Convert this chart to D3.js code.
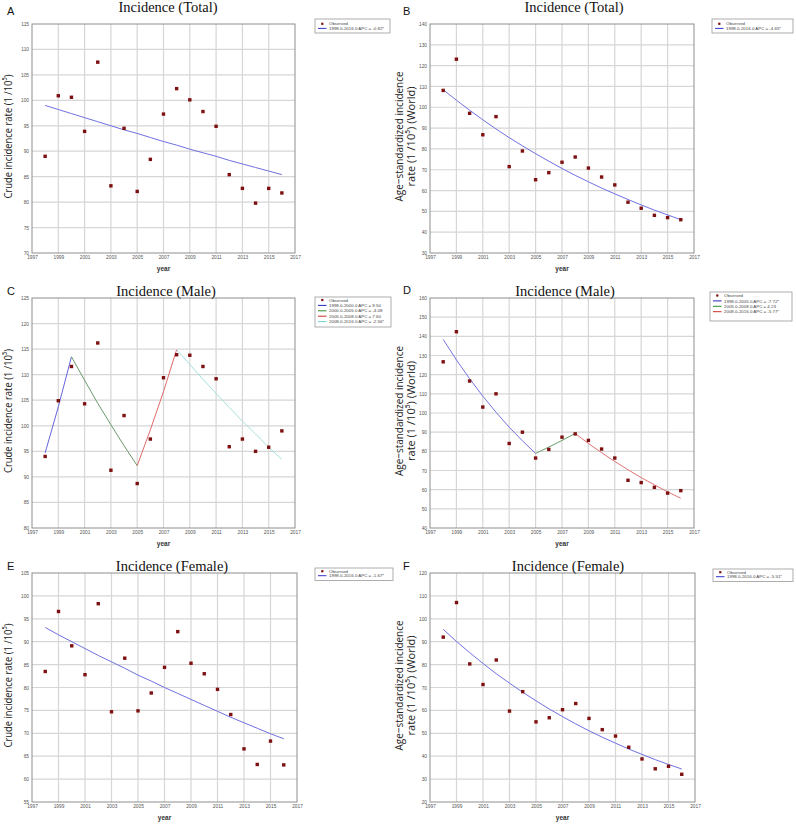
<!DOCTYPE html>
<html>
<head>
<meta charset="utf-8">
<script src="https://cdn.jsdelivr.net/npm/d3@7"></script>
<style>
body { margin: 0; background: #fff; }
svg { display: block; }
</style>
</head>
<body>
<div id="chart"></div>
<script>
// years of observation
var years = [1998, 1999, 2000, 2001, 2002, 2003, 2004, 2005, 2006, 2007, 2008, 2009, 2010, 2011, 2012, 2013, 2014, 2015, 2016];
var xTicks = [1997, 1999, 2001, 2003, 2005, 2007, 2009, 2011, 2013, 2015, 2017];

// observed rates (1/10^5)
var obsTotalCrude = [89.0, 100.9, 100.6, 93.9, 107.5, 83.2, 94.5, 82.1, 88.4, 97.3, 102.3, 100.1, 97.8, 94.9, 85.4, 82.7, 79.8, 82.7, 81.8];
var obsTotalAsr = [108.1, 123.1, 97.1, 86.8, 95.5, 71.5, 79.0, 65.2, 68.6, 73.6, 76.1, 70.8, 66.5, 62.7, 54.4, 51.5, 48.1, 47.0, 46.0];
var obsMaleCrude = [94.0, 104.9, 111.6, 104.3, 116.2, 91.3, 102.0, 88.7, 97.4, 109.4, 113.9, 113.8, 111.6, 109.2, 95.9, 97.4, 95.0, 95.8, 99.0];
var obsMaleAsr = [126.7, 142.4, 116.7, 103.1, 110.0, 84.1, 90.0, 76.5, 81.0, 87.4, 89.1, 85.7, 81.2, 76.5, 64.9, 63.7, 61.2, 58.2, 59.5];
var obsFemaleCrude = [83.5, 96.6, 89.1, 82.8, 98.3, 74.7, 86.4, 74.9, 78.8, 84.4, 92.2, 85.3, 83.0, 79.6, 74.1, 66.6, 63.2, 68.3, 63.1];
var obsFemaleAsr = [92.0, 107.1, 80.3, 71.3, 82.0, 59.7, 68.2, 55.0, 56.8, 60.3, 63.0, 56.5, 51.6, 48.8, 43.9, 38.8, 34.5, 35.6, 32.1];

// joinpoint fitted values, one value per year from the segment start
var fitTotalCrude = [99.0, 98.2, 97.4, 96.6, 95.8, 95.0, 94.2, 93.5, 92.7, 91.9, 91.2, 90.4, 89.7, 89.0, 88.2, 87.5, 86.8, 86.1, 85.4];
var fitTotalAsr = [108.4, 103.4, 98.6, 94.0, 89.6, 85.4, 81.5, 77.7, 74.1, 70.6, 67.3, 64.2, 61.2, 58.4, 55.7, 53.1, 50.6, 48.3, 46.0];
var fitMaleCrude1 = [94.7, 103.7, 113.5];
var fitMaleCrude2 = [113.5, 108.9, 104.4, 100.2, 96.1, 92.2];
var fitMaleCrude3 = [92.2, 99.2, 106.7, 114.9];
var fitMaleCrude4 = [114.9, 112.0, 109.1, 106.3, 103.6, 100.9, 98.4, 95.8, 93.4];
var fitMaleAsr1 = [138.4, 127.7, 117.9, 108.8, 100.4, 92.6, 85.5, 78.9];
var fitMaleAsr2 = [78.9, 82.2, 85.7, 89.3];
var fitMaleAsr3 = [89.3, 84.1, 79.3, 74.7, 70.4, 66.3, 62.5, 58.9, 55.5];
var fitFemaleCrude = [93.1, 91.5, 90.0, 88.5, 87.0, 85.6, 84.2, 82.7, 81.4, 80.0, 78.7, 77.4, 76.1, 74.8, 73.5, 72.3, 71.1, 69.9, 68.8];
var fitFemaleAsr = [95.4, 90.1, 85.2, 80.5, 76.0, 71.9, 67.9, 64.2, 60.6, 57.3, 54.1, 51.1, 48.3, 45.7, 43.1, 40.8, 38.5, 36.4, 34.4];

// legend texts
var legendTotalCrude = ["Observed", "1998.0-2016.0 APC = -0.82*"];
var legendTotalAsr = ["Observed", "1998.0-2016.0 APC = -4.65*"];
var legendMaleCrude = ["Observed", "1998.0-2000.0 APC = 9.50", "2000.0-2005.0 APC = -4.08", "2005.0-2008.0 APC = 7.60", "2008.0-2016.0 APC = -2.56*"];
var legendMaleAsr = ["Observed", "1998.0-2005.0 APC = -7.72*", "2005.0-2008.0 APC = 4.23", "2008.0-2016.0 APC = -5.77*"];
var legendFemaleCrude = ["Observed", "1998.0-2016.0 APC = -1.67*"];
var legendFemaleAsr = ["Observed", "1998.0-2016.0 APC = -5.51*"];

var W = 796, H = 824;
var svg = d3.select("#chart").append("svg")
    .attr("width", W)
    .attr("height", H)
    .attr("font-family", "'Liberation Sans', Arial, sans-serif");

var pointColor = "#7d1010";

var panels = [
  { letter: "A", title: "Incidence (Total)", crude: true, left: 32, top: 24, width: 263, height: 229,
    yDomain: [70, 115], yStep: 5, obs: obsTotalCrude, titleX: 168, titleY: 12, letterY: 15,
    fits: [{ start: 1998, values: fitTotalCrude, color: "#7070e2", key: "#3434d0" }],
    legend: legendTotalCrude, lx: 315, ly: 19, lw: 75, lh: 14, lrow0: 4.8, lstep: 4.6 },
  { letter: "B", title: "Incidence (Total)", crude: false, left: 430, top: 24, width: 264, height: 229,
    yDomain: [30, 140], yStep: 10, obs: obsTotalAsr, titleX: 574, titleY: 12, letterY: 15,
    fits: [{ start: 1998, values: fitTotalAsr, color: "#7070e2", key: "#3434d0" }],
    legend: legendTotalAsr, lx: 712, ly: 19, lw: 81, lh: 14, lrow0: 4.8, lstep: 4.6 },
  { letter: "C", title: "Incidence (Male)", crude: true, left: 32, top: 298, width: 263, height: 230,
    yDomain: [80, 125], yStep: 5, obs: obsMaleCrude, titleX: 166, titleY: 296, letterY: 295,
    fits: [
      { start: 1998, values: fitMaleCrude1, color: "#6464dc", key: "#2424c0" },
      { start: 2000, values: fitMaleCrude2, color: "#6a9a6a", key: "#2e8a2e" },
      { start: 2005, values: fitMaleCrude3, color: "#e06a6a", key: "#d02a2a" },
      { start: 2008, values: fitMaleCrude4, color: "#a6e0e0", key: "#70d0d0" }],
    legend: legendMaleCrude, lx: 315, ly: 297, lw: 76, lh: 30, lrow0: 3, lstep: 5.4 },
  { letter: "D", title: "Incidence (Male)", crude: false, left: 430, top: 298, width: 264, height: 230,
    yDomain: [40, 160], yStep: 10, obs: obsMaleAsr, titleX: 565, titleY: 296, letterY: 294,
    fits: [
      { start: 1998, values: fitMaleAsr1, color: "#7474e0", key: "#2424c0" },
      { start: 2005, values: fitMaleAsr2, color: "#6a9e6a", key: "#2e8a2e" },
      { start: 2008, values: fitMaleAsr3, color: "#e07474", key: "#d02a2a" }],
    legend: legendMaleAsr, lx: 710, ly: 292, lw: 82, lh: 29, lrow0: 3.5, lstep: 5.4 },
  { letter: "E", title: "Incidence (Female)", crude: true, left: 32, top: 573, width: 265, height: 229,
    yDomain: [55, 105], yStep: 5, obs: obsFemaleCrude, titleX: 172, titleY: 571, letterY: 570,
    fits: [{ start: 1998, values: fitFemaleCrude, color: "#7070e2", key: "#3434d0" }],
    legend: legendFemaleCrude, lx: 315, ly: 568, lw: 78, lh: 12.5, lrow0: 3.2, lstep: 4.5 },
  { letter: "F", title: "Incidence (Female)", crude: false, left: 430, top: 573, width: 265, height: 229,
    yDomain: [20, 120], yStep: 10, obs: obsFemaleAsr, titleX: 568, titleY: 571, letterY: 570,
    fits: [{ start: 1998, values: fitFemaleAsr, color: "#7070e2", key: "#3434d0" }],
    legend: legendFemaleAsr, lx: 713, ly: 569, lw: 80, lh: 12.5, lrow0: 3.2, lstep: 4.5 }
];

panels.forEach(function(p) {
  var x = d3.scaleLinear().domain([1997, 2017]).range([p.left, p.left + p.width]);
  var y = d3.scaleLinear().domain(p.yDomain).range([p.top + p.height, p.top]);
  var yTicks = d3.range(p.yDomain[0], p.yDomain[1] + 0.001, p.yStep);
  var g = svg.append("g");

  // grid
  g.selectAll(".vgrid").data(xTicks.slice(1, -1)).enter().append("line")
    .attr("x1", function(d) { return x(d); })
    .attr("x2", function(d) { return x(d); })
    .attr("y1", p.top).attr("y2", p.top + p.height)
    .attr("stroke", "#d6d6d6").attr("stroke-width", 1.2);
  g.selectAll(".hgrid").data(yTicks.slice(1, -1)).enter().append("line")
    .attr("y1", function(d) { return y(d); })
    .attr("y2", function(d) { return y(d); })
    .attr("x1", p.left).attr("x2", p.left + p.width)
    .attr("stroke", "#d6d6d6").attr("stroke-width", 1.2);

  // frame
  g.append("rect")
    .attr("x", p.left).attr("y", p.top)
    .attr("width", p.width).attr("height", p.height)
    .attr("fill", "none").attr("stroke", "#8e8e8e").attr("stroke-width", 1);

  // axes (labels only)
  var yAxis = g.append("g")
    .attr("transform", "translate(" + p.left + ",0)")
    .call(d3.axisLeft(y).tickValues(yTicks).tickSize(0).tickPadding(3).tickFormat(d3.format("d")));
  var xAxis = g.append("g")
    .attr("transform", "translate(0," + (p.top + p.height) + ")")
    .call(d3.axisBottom(x).tickValues(xTicks).tickSize(0).tickPadding(3).tickFormat(d3.format("d")));
  [yAxis, xAxis].forEach(function(a) {
    a.select(".domain").remove();
    a.selectAll("text").attr("font-size", 4.8).attr("fill", "#555")
      .attr("font-family", "'Liberation Sans', Arial, sans-serif");
  });

  // fitted lines
  var line = d3.line()
    .x(function(d, i) { return x(d.year); })
    .y(function(d) { return y(d.value); });
  p.fits.forEach(function(f) {
    var pts = f.values.map(function(v, i) { return { year: f.start + i, value: v }; });
    g.append("path").datum(pts)
      .attr("d", line)
      .attr("fill", "none")
      .attr("stroke", f.color)
      .attr("stroke-width", 1);
  });

  // observed points
  var s = 3.4;
  g.selectAll(".pt").data(p.obs).enter().append("rect")
    .attr("x", function(d, i) { return x(years[i]) - s / 2; })
    .attr("y", function(d) { return y(d) - s / 2; })
    .attr("width", s).attr("height", s)
    .attr("fill", pointColor);

  // titles
  g.append("text")
    .attr("x", p.titleX).attr("y", p.titleY)
    .attr("text-anchor", "middle")
    .attr("font-family", "'Liberation Serif', 'Times New Roman', serif")
    .attr("font-size", 14.5)
    .attr("fill", "#111")
    .text(p.title);
  g.append("text")
    .attr("x", p.left < 100 ? 7 : 403).attr("y", p.letterY)
    .attr("font-size", 11)
    .attr("fill", "#111")
    .text(p.letter);

  // x label
  g.append("text")
    .attr("x", x(2007)).attr("y", p.top + p.height + 18)
    .attr("text-anchor", "middle")
    .attr("font-size", 6.5).attr("font-weight", "bold").attr("fill", "#333")
    .text("year");

  // y label
  var cy = p.top + p.height / 2 - 2;
  if (p.crude) {
    g.append("text")
      .attr("transform", "translate(12," + cy + ") rotate(-90)")
      .attr("text-anchor", "middle")
      .attr("font-family", "'Open Sans', 'Liberation Sans', sans-serif")
      .attr("font-size", 11.5).attr("fill", "#222")
      .attr("textLength", 124).attr("lengthAdjust", "spacingAndGlyphs")
      .text("Crude incidence rate (1 /10\u2075)");
  } else {
    g.append("text")
      .attr("transform", "translate(403," + cy + ") rotate(-90)")
      .attr("text-anchor", "middle")
      .attr("font-family", "'Open Sans', 'Liberation Sans', sans-serif")
      .attr("font-size", 11.5).attr("fill", "#222")
      .attr("textLength", 130).attr("lengthAdjust", "spacingAndGlyphs")
      .text("Age\u2212standardized incidence");
    g.append("text")
      .attr("transform", "translate(415," + cy + ") rotate(-90)")
      .attr("text-anchor", "middle")
      .attr("font-family", "'Open Sans', 'Liberation Sans', sans-serif")
      .attr("font-size", 11.5).attr("fill", "#222")
      .attr("textLength", 100).attr("lengthAdjust", "spacingAndGlyphs")
      .text("rate (1 /10\u2075) (World)");
  }

  // legend
  var lg = g.append("g");
  lg.append("rect")
    .attr("x", p.lx).attr("y", p.ly)
    .attr("width", p.lw).attr("height", p.lh)
    .attr("fill", "#fff").attr("stroke", "#999").attr("stroke-width", 0.8);
  p.legend.forEach(function(label, i) {
    var ry = p.ly + p.lrow0 + i * p.lstep;
    if (i === 0) {
      lg.append("rect")
        .attr("x", p.lx + 6.2).attr("y", ry - 1.1)
        .attr("width", 2.2).attr("height", 2.2)
        .attr("fill", pointColor);
    } else {
      lg.append("line")
        .attr("x1", p.lx + 3).attr("x2", p.lx + 11.5)
        .attr("y1", ry).attr("y2", ry)
        .attr("stroke", p.fits[i - 1].key).attr("stroke-width", 1);
    }
    lg.append("text")
      .attr("x", p.lx + 14).attr("y", ry + 1.6)
      .attr("font-size", 4.4).attr("fill", "#444")
      .text(label);
  });
});
</script>
</body>
</html>
